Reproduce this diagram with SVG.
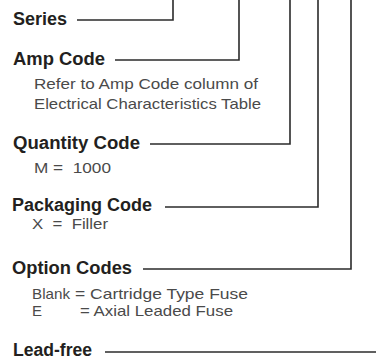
<svg xmlns="http://www.w3.org/2000/svg" width="376" height="360" viewBox="0 0 376 360">
<style>
.h{font-family:"Liberation Sans",Arial,sans-serif;font-weight:bold;font-size:17.5px;fill:#231f20}
.t{font-family:"Liberation Sans",Arial,sans-serif;font-size:15px;fill:#4a4a4a}
.c{fill:none;stroke:#2b2b2b;stroke-width:1.6}
</style>
<rect width="376" height="360" fill="#fff"/>
<g id="connectors">
<polyline class="c" points="77,20 173,20 173,0"/>
<polyline class="c" points="115,60 239,60 239,0"/>
<polyline class="c" points="150,144 290,144 290,0"/>
<polyline class="c" points="165,207 318,207 318,0"/>
<polyline class="c" points="143,269 351,269 351,0"/>
<line class="c" x1="105" y1="352" x2="376" y2="352"/>
</g>
<g id="series"><text class="h" x="13" y="25" textLength="54" lengthAdjust="spacingAndGlyphs">Series</text></g>
<g id="amp-code">
<text class="h" x="13" y="65" textLength="92" lengthAdjust="spacingAndGlyphs">Amp Code</text>
<text class="t" x="34" y="89" textLength="224" lengthAdjust="spacingAndGlyphs">Refer to Amp Code column of</text>
<text class="t" x="34" y="109" textLength="227" lengthAdjust="spacingAndGlyphs">Electrical Characteristics Table</text>
</g>
<g id="quantity-code">
<text class="h" x="13" y="149" textLength="127" lengthAdjust="spacingAndGlyphs">Quantity Code</text>
<text class="t" x="34" y="173" textLength="77" lengthAdjust="spacingAndGlyphs" xml:space="preserve">M =  1000</text>
</g>
<g id="packaging-code">
<text class="h" x="12" y="211" textLength="140" lengthAdjust="spacingAndGlyphs">Packaging Code</text>
<text class="t" x="32" y="229" textLength="76" lengthAdjust="spacingAndGlyphs" xml:space="preserve">X  =  Filler</text>
</g>
<g id="option-codes">
<text class="h" x="12" y="274" textLength="120" lengthAdjust="spacingAndGlyphs">Option Codes</text>
<text class="t" x="32" y="299" textLength="38" lengthAdjust="spacingAndGlyphs">Blank</text>
<text class="t" x="75" y="299" textLength="173" lengthAdjust="spacingAndGlyphs">= Cartridge Type Fuse</text>
<text class="t" x="32" y="316">E</text>
<text class="t" x="80" y="316" textLength="153" lengthAdjust="spacingAndGlyphs">= Axial Leaded Fuse</text>
</g>
<g id="lead-free"><text class="h" x="13" y="356" textLength="79" lengthAdjust="spacingAndGlyphs">Lead-free</text></g>
</svg>
